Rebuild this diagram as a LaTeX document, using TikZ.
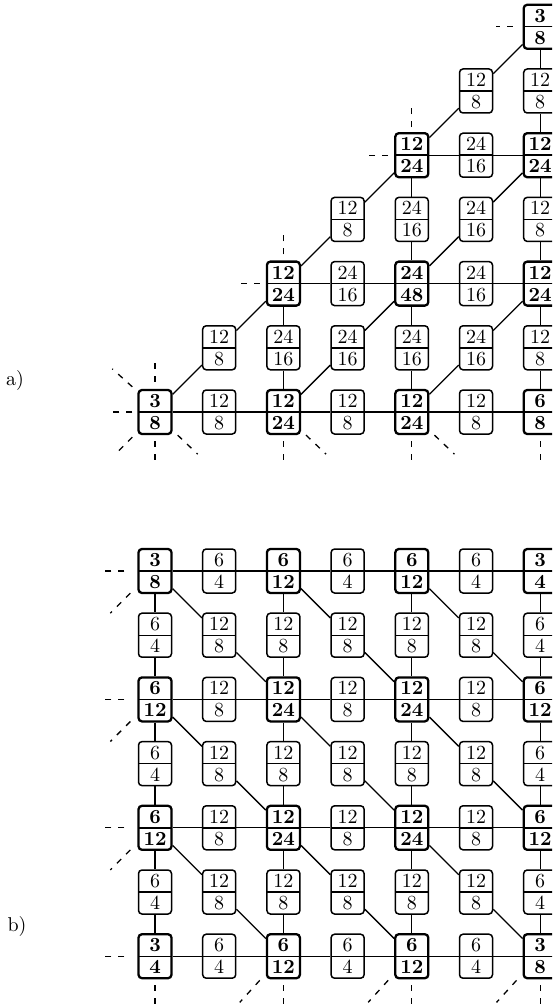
\documentclass[tikz,border=0pt]{standalone}
\usepackage{fontspec}
\setmainfont{lmroman10}[Extension=.otf, UprightFont=*-regular, BoldFont=*-bold, ItalicFont=*-italic]
\newcommand\fr[2]{\vbox{\baselineskip=22pt\lineskiplimit=-\maxdimen\hbox to 33pt{\hss#1\hss}\hbox to 33pt{\hss#2\hss}}}
\tikzset{
  cell/.style={draw, rounded corners=3.5pt, line width=1.5pt, minimum width=33pt, minimum height=44pt, inner sep=0pt,
    font=\fontsize{20}{22}\selectfont,
    path picture={\draw[line width=1.4pt] (path picture bounding box.west) -- (path picture bounding box.east);}},
  bcell/.style={cell, line width=2.3pt, font=\fontsize{20}{22}\selectfont\bfseries},
  link/.style={line width=1.3pt},
  stub/.style={line width=1.3pt, dash pattern=on 6pt off 7pt},
  lab/.style={font=\fontsize{20}{22}\selectfont, inner sep=0pt}
}
\begin{document}
\begin{tikzpicture}[x=1pt,y=-1pt]
\useasboundingbox (0,0) rectangle (552,1008);
\clip (0,0) rectangle (552,1008);
% ---------- a) ----------
\foreach \c/\r/\t/\b/\s in {
  0/0/3/8/bcell, 1/0/12/8/cell, 2/0/12/24/bcell, 3/0/12/8/cell, 4/0/12/24/bcell, 5/0/12/8/cell, 6/0/6/8/bcell,
  1/1/12/8/cell, 2/1/24/16/cell, 3/1/24/16/cell, 4/1/24/16/cell, 5/1/24/16/cell, 6/1/12/8/cell,
  2/2/12/24/bcell, 3/2/24/16/cell, 4/2/24/48/bcell, 5/2/24/16/cell, 6/2/12/24/bcell,
  3/3/12/8/cell, 4/3/24/16/cell, 5/3/24/16/cell, 6/3/12/8/cell,
  4/4/12/24/bcell, 5/4/24/16/cell, 6/4/12/24/bcell,
  5/5/12/8/cell, 6/5/12/8/cell,
  6/6/3/8/bcell}
  {\node[\s] (A\c\r) at (155+64.2*\c, 412-64.2*\r) {\fr{\t}{\b}};}
% horizontals
\draw[link] (A00)--(A10)--(A20)--(A30)--(A40)--(A50)--(A60);
\draw[link] (A22)--(A32)--(A42)--(A52)--(A62);
\draw[link] (A44)--(A54)--(A64);
% verticals
\draw[link] (A66)--(A65)--(A64)--(A63)--(A62)--(A61)--(A60);
\draw[link] (A44)--(A43)--(A42)--(A41)--(A40);
\draw[link] (A22)--(A21)--(A20);
% diagonals
\draw[link] (A00)--(A11)--(A22)--(A33)--(A44)--(A55)--(A66);
\draw[link] (A20)--(A31)--(A42)--(A53)--(A64);
\draw[link] (A40)--(A51)--(A62);
% stubs
\draw[stub] (A00.west) ++(-5,0) -- ++(-20,0);
\draw[stub] (A00.north) ++(0,-7) -- ++(0,-20);
\draw[stub] (A00.north west) ++(-5,-2) -- ++(-20,-18);
\draw[stub] (A00.south west) ++(-5,2) -- ++(-18,18);
\draw[stub] (A00.south) ++(0,6) -- ++(0,20);
\draw[stub] (A00.south east) ++(5,0) -- ++(20,19);
\draw[stub] (A20.south) ++(0,6) -- ++(0,20);
\draw[stub] (A20.south east) ++(5,0) -- ++(20,19);
\draw[stub] (A40.south) ++(0,6) -- ++(0,20);
\draw[stub] (A40.south east) ++(5,0) -- ++(20,19);
\draw[stub] (A60.south) ++(0,6) -- ++(0,20);
\draw[stub] (A22.west) ++(-6,0) -- ++(-20,0);
\draw[stub] (A22.north) ++(0,-6) -- ++(0,-20);
\draw[stub] (A44.west) ++(-6,0) -- ++(-20,0);
\draw[stub] (A44.north) ++(0,-5) -- ++(0,-20);
\draw[stub] (A66.west) ++(-10,0) -- ++(-17,0);
\node[lab] (la) at (15,380) {a)};
% ---------- b) ----------
\foreach \R in {0} {
  \foreach \C/\t/\b/\s in {0/3/8/bcell, 1/6/4/cell, 2/6/12/bcell, 3/6/4/cell, 4/6/12/bcell, 5/6/4/cell, 6/3/4/bcell}
    {\node[\s] (B\R\C) at (155+64.2*\C, 571+64.2*\R) {\fr{\t}{\b}};}
}
\foreach \R in {6} {
  \foreach \C/\t/\b/\s in {0/3/4/bcell, 1/6/4/cell, 2/6/12/bcell, 3/6/4/cell, 4/6/12/bcell, 5/6/4/cell, 6/3/8/bcell}
    {\node[\s] (B\R\C) at (155+64.2*\C, 571+64.2*\R) {\fr{\t}{\b}};}
}
\foreach \R in {2,4} {
  \foreach \C/\t/\b/\s in {0/6/12/bcell, 1/12/8/cell, 2/12/24/bcell, 3/12/8/cell, 4/12/24/bcell, 5/12/8/cell, 6/6/12/bcell}
    {\node[\s] (B\R\C) at (155+64.2*\C, 571+64.2*\R) {\fr{\t}{\b}};}
}
\foreach \R in {1,3,5} {
  \foreach \C/\t/\b/\s in {0/6/4/cell, 1/12/8/cell, 2/12/8/cell, 3/12/8/cell, 4/12/8/cell, 5/12/8/cell, 6/6/4/cell}
    {\node[\s] (B\R\C) at (155+64.2*\C, 571+64.2*\R) {\fr{\t}{\b}};}
}
% horizontals
\foreach \R in {0,2,4,6}
  {\draw[link] (B\R0)--(B\R1)--(B\R2)--(B\R3)--(B\R4)--(B\R5)--(B\R6);}
% verticals
\foreach \C in {0,2,4,6}
  {\draw[link] (B0\C)--(B1\C)--(B2\C)--(B3\C)--(B4\C)--(B5\C)--(B6\C);}
% diagonals
\draw[link] (B00)--(B11)--(B22)--(B33)--(B44)--(B55)--(B66);
\draw[link] (B02)--(B13)--(B24)--(B35)--(B46);
\draw[link] (B04)--(B15)--(B26);
\draw[link] (B20)--(B31)--(B42)--(B53)--(B64);
\draw[link] (B40)--(B51)--(B62);
% stubs
\foreach \R in {0,2,4,6}
  {\draw[stub] (B\R0.west) ++(-13,0) -- ++(-20,0);}
\foreach \R in {0,2,4}
  {\draw[stub] (B\R0.south west) ++(-7,-1) -- ++(-20,20);}
\foreach \C in {0,2,4,6}
  {\draw[stub] (B6\C.south) ++(0,6) -- ++(0,22);}
\foreach \C in {2,4,6}
  {\draw[stub] (B6\C.south west) ++(-6,1) -- ++(-20,22);}
\node[lab] (lb) at (17,926) {b)};
\end{tikzpicture}
\end{document}
